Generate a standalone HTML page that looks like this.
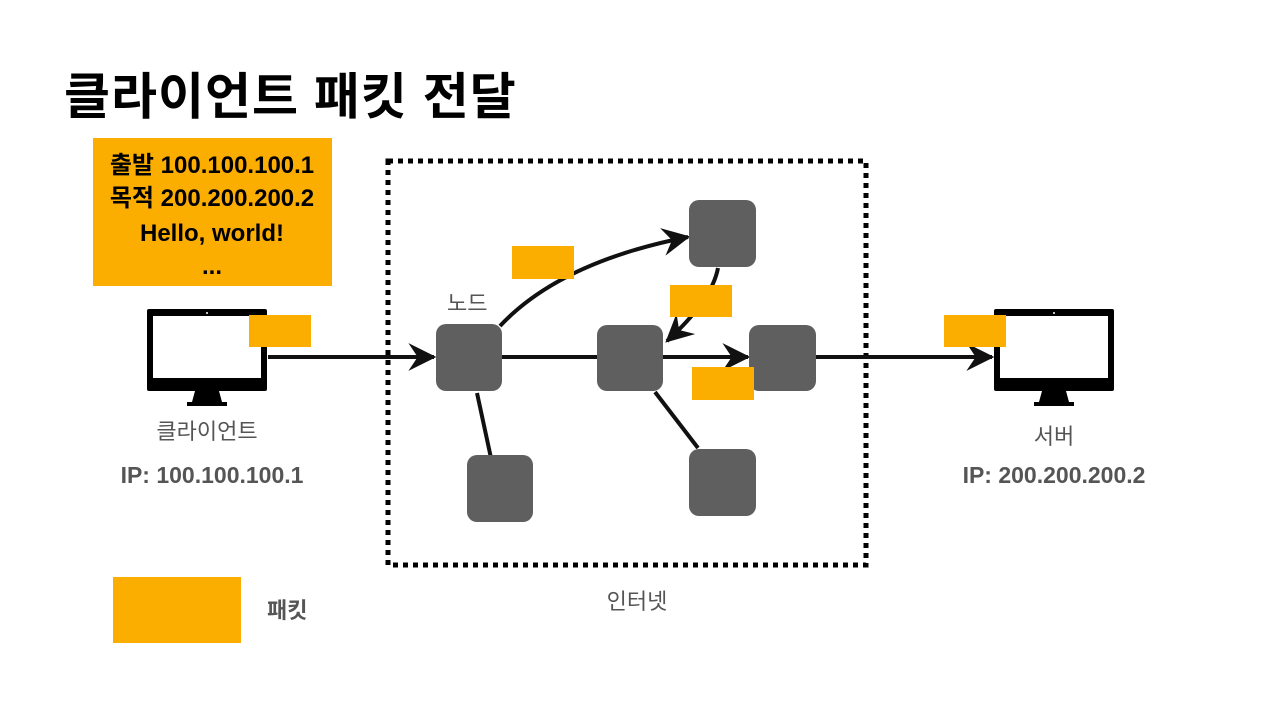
<!DOCTYPE html>
<html><head><meta charset="utf-8"><style>
html,body{margin:0;padding:0;background:#fff;width:1270px;height:708px;overflow:hidden}
svg{display:block}
text{font-family:"Liberation Sans","Noto Sans CJK KR",sans-serif}
</style></head><body>
<svg width="1270" height="708" viewBox="0 0 1270 708">
<defs>
<marker id="ah" viewBox="0 0 12 12" refX="11" refY="6" markerWidth="7" markerHeight="7" markerUnits="strokeWidth" orient="auto">
<path d="M0,0 L12,6 L0,12 L4,6 Z" fill="#111"/>
</marker>
</defs>
<text x="64" y="114" font-size="50" font-weight="bold" fill="#000" letter-spacing="1">클라이언트 패킷 전달</text>

<rect x="93" y="138" width="239" height="148" fill="#fcae00"/>
<g font-size="24" font-weight="bold" fill="#000" text-anchor="middle">
<text x="212" y="173">출발 100.100.100.1</text>
<text x="212" y="206">목적 200.200.200.2</text>
<text x="212" y="241">Hello, world!</text>
<text x="212" y="274">...</text>
</g>

<rect x="388" y="161" width="478" height="404" fill="none" stroke="#000" stroke-width="5" stroke-dasharray="5,5"/>

<!-- monitors -->
<g fill="#000">
<rect x="147" y="309" width="120" height="82" rx="2"/>
<rect x="153" y="316" width="108" height="62" fill="#fff"/>
<path d="M195,391 L219,391 L222,402 L227,402 L227,406 L187,406 L187,402 L192,402 Z"/>
<rect x="994" y="309" width="120" height="82" rx="2"/>
<rect x="1000" y="316" width="108" height="62" fill="#fff"/>
<path d="M1042,391 L1066,391 L1069,402 L1074,402 L1074,406 L1034,406 L1034,402 L1039,402 Z"/>
</g>
<circle cx="207" cy="313" r="1" fill="#fff"/>
<circle cx="1054" cy="313" r="1" fill="#fff"/>

<!-- connectors -->
<g stroke="#111" stroke-width="4" fill="none">
<line x1="268" y1="357" x2="434" y2="357" marker-end="url(#ah)"/>
<line x1="502" y1="357" x2="597" y2="357"/>
<line x1="663" y1="357" x2="748" y2="357" marker-end="url(#ah)"/>
<line x1="816" y1="357" x2="992" y2="357" marker-end="url(#ah)"/>
<path d="M500,326 Q560,262 688,237" marker-end="url(#ah)"/>
<path d="M718,268 Q712,300 667,341" marker-end="url(#ah)"/>
<line x1="477" y1="393" x2="491" y2="458"/>
<line x1="655" y1="392" x2="698" y2="448"/>
</g>

<!-- nodes -->
<g fill="#5f5f5f">
<rect x="436" y="324" width="66" height="67" rx="10"/>
<rect x="597" y="325" width="66" height="66" rx="10"/>
<rect x="749" y="325" width="67" height="66" rx="10"/>
<rect x="689" y="200" width="67" height="67" rx="10"/>
<rect x="467" y="455" width="66" height="67" rx="10"/>
<rect x="689" y="449" width="67" height="67" rx="10"/>
</g>

<!-- packets -->
<g fill="#fcae00">
<rect x="249" y="315" width="62" height="32"/>
<rect x="512" y="246" width="62" height="33"/>
<rect x="670" y="285" width="62" height="32"/>
<rect x="692" y="367" width="62" height="33"/>
<rect x="944" y="315" width="62" height="32"/>
<rect x="113" y="577" width="128" height="66"/>
</g>

<g fill="#555" font-size="22">
<text x="447" y="311">노드</text>
<text x="207" y="439" text-anchor="middle">클라이언트</text>
<text x="1054" y="444" text-anchor="middle">서버</text>
<text x="637" y="609" text-anchor="middle">인터넷</text>
</g>
<g fill="#555" font-size="23" font-weight="bold">
<text x="212" y="483" text-anchor="middle">IP: 100.100.100.1</text>
<text x="1054" y="483" text-anchor="middle">IP: 200.200.200.2</text>
<text x="267" y="618" font-size="22">패킷</text>
</g>
</svg>
</body></html>
